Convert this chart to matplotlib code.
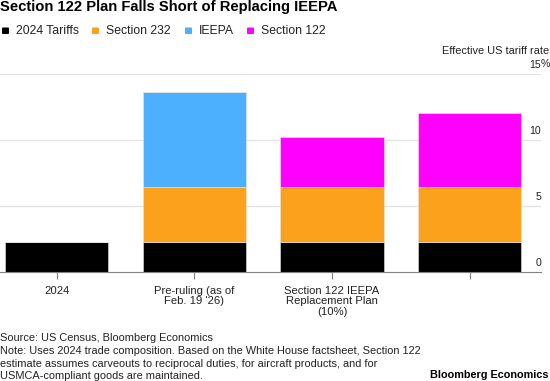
import matplotlib.pyplot as plt
from matplotlib.patches import FancyBboxPatch

plt.rcParams['font.family'] = ['Liberation Sans', 'DejaVu Sans']

categories = ['2024', "Pre-ruling (as of\nFeb. 19 '26)", 'Section 122 IEEPA\nReplacement Plan\n(10%)', '']
tariffs_2024 = [2.3, 2.3, 2.3, 2.3]
section_232 = [0, 4.14, 4.14, 4.14]
ieepa = [0, 7.16, 0, 0]
section_122 = [0, 0, 3.76, 5.58]

series = ['2024 Tariffs', 'Section 232', 'IEEPA', 'Section 122']
colors = ['#000000', '#FCA11B', '#4DB0FF', '#FF00FF']

W, H = 550, 381
fig = plt.figure(figsize=(5.5, 3.81), dpi=100)
ax = fig.add_axes([0, (H - 272) / H, 541 / W, (272 - 73.5) / H])

x = list(range(len(categories)))
bottom = [0] * len(categories)
for vals, c in zip([tariffs_2024, section_232, ieepa, section_122], colors):
    ax.bar(x, vals, width=0.75, bottom=bottom, color=c, edgecolor='#e6e6e6', linewidth=0.4, zorder=3)
    bottom = [b + v for b, v in zip(bottom, vals)]

ax.set_xlim(-56.7 / 137.7, (541 - 56.7) / 137.7)
ax.set_ylim(0, 15)
ax.set_yticks([5, 10, 15])
ax.yaxis.grid(True, color='#e2e2e2', linewidth=0.9, zorder=0)
ax.set_yticklabels([])
ax.tick_params(axis='y', length=0)
for s in ['top', 'right', 'left']:
    ax.spines[s].set_visible(False)
ax.spines['bottom'].set_color('#808080')
ax.spines['bottom'].set_linewidth(0.8)
ax.spines['bottom'].set_zorder(4)

ax.set_xticks(x)
ax.set_xticklabels(categories, fontsize=8.1, color='#222222', linespacing=1.05)
ax.tick_params(axis='x', length=5, width=0.8, color='#808080', pad=5)

# y labels on the right, sitting above the gridlines
for v in [0, 5, 10, 15]:
    ypix = 272 - v * (198.5 / 15) - 9
    fig.text(541 / W, 1 - ypix / H, str(v), ha='right', va='center', fontsize=7.6, color='#222222')
fig.text(541 / W, 1 - 64 / H, '%', ha='left', va='center', fontsize=7.6, color='#222222')
fig.text(549 / W, 1 - 51 / H, 'Effective US tariff rate', ha='right', va='center', fontsize=7.9, color='#222222')

# title
fig.text(0, 1 - 7 / H, 'Section 122 Plan Falls Short of Replacing IEEPA', ha='left', va='center',
         fontsize=10.6, fontweight='bold', color='#000000')

# legend
leg_x = [2, 92, 185, 247]
for lx, name, c in zip(leg_x, series, colors):
    fig.patches.append(FancyBboxPatch((lx / W, 1 - 34 / H), 7 / W, 6.5 / H,
                                      boxstyle='round,pad=0,rounding_size=0.002',
                                      transform=fig.transFigure, facecolor=c, edgecolor='none'))
    fig.text((lx + 14) / W, 1 - 31 / H, name, ha='left', va='center', fontsize=8.8, color='#222222')

# footnotes
notes = ['Source: US Census, Bloomberg Economics',
         'Note: Uses 2024 trade composition. Based on the White House factsheet, Section 122',
         'estimate assumes carveouts to reciprocal duties, for aircraft products, and for',
         'USMCA-compliant goods are maintained.']
for i, t in enumerate(notes):
    fig.text(0, 1 - (338 + 12.8 * i) / H, t, ha='left', va='center', fontsize=7.95, color='#222222')
fig.text(549 / W, 1 - 375.5 / H, 'Bloomberg Economics', ha='right', va='center', fontsize=7.8,
         fontweight='bold', color='#000000')

fig.savefig('out.png', dpi=100)
